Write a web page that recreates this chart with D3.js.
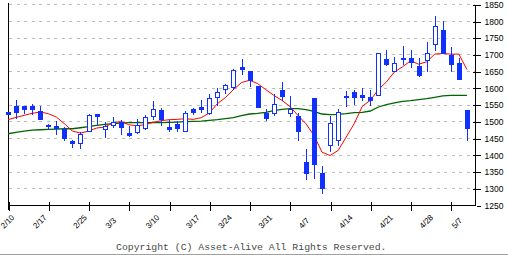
<!DOCTYPE html>
<html>
<head>
<meta charset="utf-8">
<script src="https://cdn.jsdelivr.net/npm/d3@7"></script>
<style>
  html, body { margin: 0; padding: 0; background: #fff; }
  svg { display: block; }
</style>
</head>
<body>
<svg id="chart" width="508" height="255"></svg>
<script>
// ---- data (trading days) ----
const dates = ["2/10","2/12","2/13","2/14","2/17","2/18","2/19","2/20","2/21","2/25","2/26","2/27","2/28",
  "3/3","3/4","3/5","3/6","3/7","3/10","3/11","3/12","3/13","3/14","3/17","3/18","3/19","3/21",
  "3/24","3/25","3/26","3/27","3/28","3/31","4/1","4/2","4/3","4/4","4/7","4/8","4/9","4/10","4/11",
  "4/14","4/15","4/16","4/17","4/18","4/21","4/22","4/23","4/24","4/25","4/28","4/30","5/1","5/2","5/7","5/8"];
const open  = [1527,1547,1545,1547,1530,1488,1487,1477,1440,1436,1471,1523,1478,1488,1499,1464,1468,1481,1517,1533,
  1483,1491,1471,1536,1543,1525,1573,1597,1603,1662,1651,1605,1525,1525,1593,1525,1515,1380,1569,1347,
  1430,1445,1574,1589,1578,1574,1578,1685,1650,1688,1688,1665,1682,1730,1773,1698,1675,1533];
const high  = [1528,1563,1545,1551,1547,1493,1501,1482,1443,1467,1521,1523,1497,1512,1503,1485,1506,1518,1560,1540,
  1503,1501,1530,1541,1563,1581,1601,1613,1656,1686,1651,1605,1538,1583,1617,1575,1525,1416,1569,1368,
  1515,1536,1591,1595,1601,1595,1703,1713,1693,1725,1713,1688,1737,1815,1800,1723,1688,1533];
const low   = [1522,1511,1525,1523,1507,1476,1462,1444,1423,1420,1471,1493,1453,1483,1462,1456,1465,1477,1507,1490,
  1471,1471,1471,1521,1527,1523,1549,1585,1598,1641,1605,1543,1505,1518,1563,1515,1443,1327,1330,1285,
  1411,1428,1547,1553,1563,1548,1578,1670,1650,1673,1663,1635,1651,1713,1705,1651,1626,1445];
const close = [1523,1528,1537,1537,1507,1486,1479,1450,1435,1463,1518,1516,1487,1499,1483,1459,1490,1514,1538,1507,
  1477,1480,1526,1527,1536,1571,1587,1608,1653,1656,1623,1543,1509,1553,1575,1537,1471,1345,1372,1300,
  1496,1528,1576,1573,1572,1565,1703,1673,1675,1689,1677,1638,1703,1785,1705,1673,1628,1480];
const maShort = [1505,1512,1518,1524,1528,1523,1513,1493,1471,1465,1471,1480,1483,1495,1500,1490,1487,1490,1497,1502,
  1505,1506,1508,1506,1511,1525,1553,1571,1595,1616,1623,1613,1595,1578,1563,1545,1518,1493,1458,1408,
  1398,1413,1453,1493,1545,1563,1595,1618,1648,1663,1681,1671,1678,1701,1703,1701,1701,1655];
const maLong = [1463,1467,1471,1474,1475,1476,1477,1478,1478,1481,1484,1488,1491,1493,1495,1496,1496,1496,1496,1496,
  1497,1498,1499,1500,1501,1503,1505,1508,1511,1517,1522,1524,1527,1532,1536,1538,1538,1535,1530,1522,
  1520,1521,1523,1526,1527,1531,1543,1550,1555,1560,1562,1565,1568,1572,1576,1578,1578,1578];
const yTicks = [1250,1300,1350,1400,1450,1500,1550,1600,1650,1700,1750,1800,1850];
const xLabels = ["2/10","2/17","2/25","3/3","3/10","3/17","3/24","3/31","4/7","4/14","4/21","4/28","5/7"];
const copyright = "Copyright (C) Asset-Alive All Rights Reserved.";

// ---- layout ----
const svg = d3.select("#chart");
const X0 = 8, X1 = 475, Y0 = 205, Y1 = 4.3;
const x = d3.scaleLinear().domain([0, 58]).range([X0, X1]);
const y = d3.scaleLinear().domain([1250, 1850]).range([Y0, Y1]);
const blue = "#1030ff";

svg.append("rect").attr("width", 508).attr("height", 255).attr("fill", "#fff");

// grid
svg.append("g").selectAll("line").data(yTicks.filter(d => d > 1250)).join("line")
  .attr("x1", X0 + 1).attr("x2", X1)
  .attr("y1", d => Math.round(y(d)) + 0.5).attr("y2", d => Math.round(y(d)) + 0.5)
  .attr("stroke", "#bdbdbd").attr("stroke-width", 1).attr("stroke-dasharray", "3,4.5")
  .attr("shape-rendering", "crispEdges");

// bottom axis (ticks every 5 slots)
const xAxis = d3.axisBottom(x).tickValues(d3.range(0, 56, 5)).tickSizeInner(5).tickSizeOuter(0).tickFormat("");
const gx = svg.append("g").attr("transform", `translate(0.5,${Y0 + 0.5})`).call(xAxis);
gx.select(".domain").attr("stroke", "#000").attr("d", `M${X0},0H${X1}`);
gx.selectAll(".tick line").attr("y1", -4).attr("y2", 5).attr("stroke", "#000");
gx.selectAll("path, line").attr("shape-rendering", "crispEdges");

// left axis line
svg.append("line").attr("x1", X0 + 0.5).attr("x2", X0 + 0.5).attr("y1", 3).attr("y2", 210)
  .attr("stroke", "#000").attr("shape-rendering", "crispEdges");

// right axis
const yAxis = d3.axisRight(y).tickValues(yTicks).tickSizeInner(5).tickSizeOuter(0).tickPadding(5)
  .tickFormat(d3.format("d"));
const gy = svg.append("g").attr("transform", `translate(${X1 + 0.5},0.5)`).call(yAxis);
gy.select(".domain").attr("stroke", "#000").attr("d", `M0,${Y1}V${Y0}`);
gy.selectAll(".tick line").attr("x1", -3).attr("x2", 5).attr("stroke", "#000");
gy.selectAll(".tick").filter(d => d === 1250).select("line").attr("x1", 1);
gy.selectAll("path, line").attr("shape-rendering", "crispEdges");
gy.selectAll(".tick text").attr("font-family", "Liberation Sans, Arial, sans-serif")
  .attr("font-size", "8.5px").attr("fill", "#000").attr("x", 9);

// x labels at their trading-day positions
svg.append("g").selectAll("text").data(xLabels).join("text")
  .attr("transform", d => `translate(${x(dates.indexOf(d)) - 4},229) rotate(-45)`)
  .attr("font-family", "Liberation Sans, Arial, sans-serif").attr("font-size", "8px")
  .attr("fill", "#000").text(d => d);

// moving averages
const line = d3.line().x((d, i) => x(i)).y(d => y(d));
svg.append("path").datum(maLong).attr("d", line).attr("fill", "none")
  .attr("stroke", "#006400").attr("stroke-width", 1.3);
svg.append("path").datum(maShort).attr("d", line).attr("fill", "none")
  .attr("stroke", "#ff0000").attr("stroke-width", 1);

// candles
const idx = d3.range(dates.length);
const cg = svg.append("g").attr("shape-rendering", "crispEdges");
cg.selectAll("line").data(idx).join("line")
  .attr("x1", i => Math.round(x(i)) + 0.5).attr("x2", i => Math.round(x(i)) + 0.5)
  .attr("y1", i => Math.round(y(high[i]))).attr("y2", i => Math.round(y(low[i])) + 1)
  .attr("stroke", blue);
cg.selectAll("rect").data(idx).join("rect")
  .each(function (i) {
    const up = close[i] > open[i];
    const top = Math.round(y(Math.max(open[i], close[i])));
    const bot = Math.round(y(Math.min(open[i], close[i])));
    const cx = Math.round(x(i));
    const r = d3.select(this);
    if (up) {
      r.attr("x", cx - 1.5).attr("y", top + 0.5).attr("width", 4).attr("height", Math.max(bot - top, 1))
        .attr("fill", "#fff").attr("stroke", blue);
    } else {
      r.attr("x", cx - 2).attr("y", top).attr("width", 5).attr("height", Math.max(bot - top, 1) + 1)
        .attr("fill", blue);
    }
  });

// copyright + bottom rule
svg.append("text").attr("x", 116).attr("y", 249.5)
  .attr("font-family", "Liberation Mono, DejaVu Sans Mono, monospace").attr("font-size", "9.8px")
  .attr("fill", "#4a4a4a").text(copyright);
svg.append("line").attr("x1", 0).attr("x2", 508).attr("y1", 254.5).attr("y2", 254.5)
  .attr("stroke", "#a0a0a0").attr("shape-rendering", "crispEdges");
</script>
</body>
</html>
